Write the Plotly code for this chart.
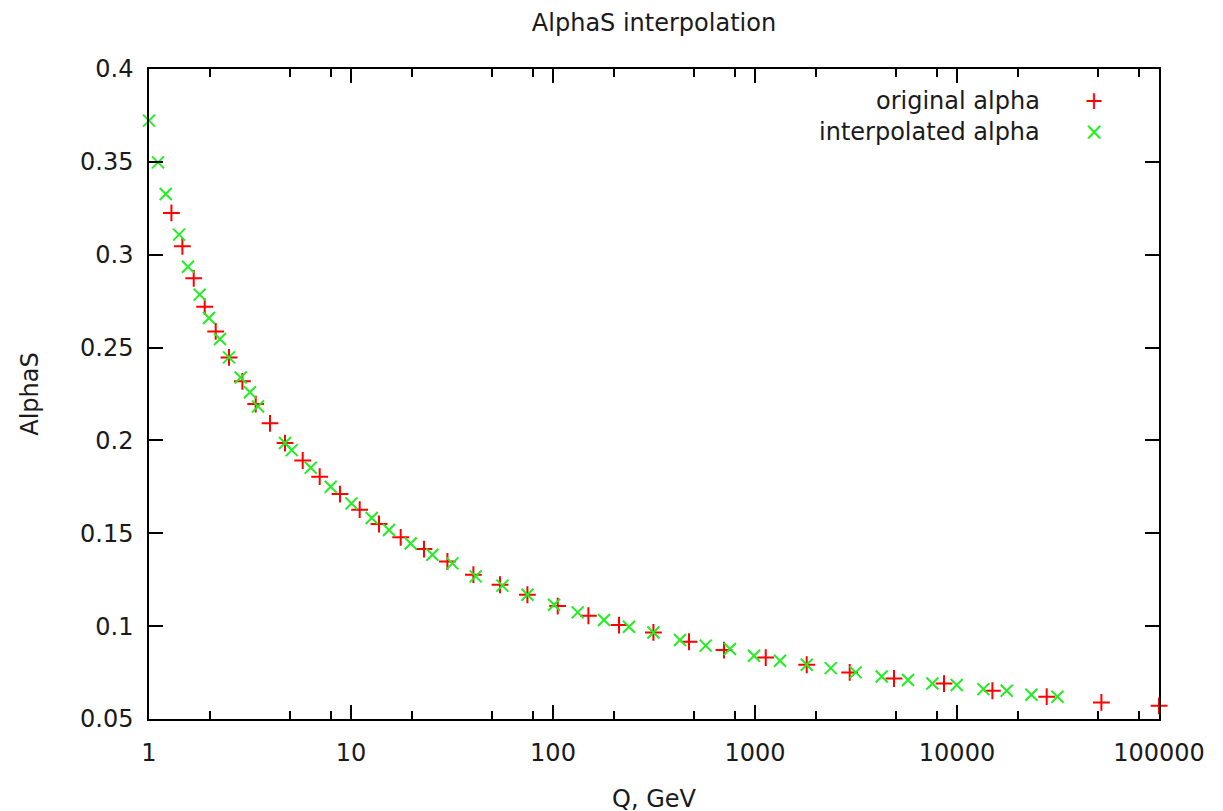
import plotly.graph_objects as go

# ─── data ────────────────────────────────────────────────────────────────────

# original alpha (red "+")
q_original = [1.291, 1.463, 1.665, 1.887, 2.139, 2.489, 2.900, 3.375, 3.972, 4.713,
              5.767, 6.998, 8.820, 11.04, 13.76, 17.62, 22.98, 30.01, 40.35, 54.65,
              74.7, 105.5, 149.7, 212.2, 314.1, 471.3, 702.3, 1130, 1803, 2943,
              4877, 8623, 14970, 27800, 51860, 100000]
alpha_original = [0.3225, 0.3045, 0.2873, 0.2720, 0.2587, 0.2447, 0.2318, 0.2196, 0.2092, 0.1986,
                  0.1892, 0.1805, 0.1711, 0.1627, 0.1550, 0.1478, 0.1415, 0.1348, 0.1277, 0.1223,
                  0.1169, 0.1108, 0.1056, 0.1006, 0.0966, 0.0916, 0.0871, 0.0831, 0.0792, 0.0751,
                  0.0718, 0.0691, 0.0652, 0.0620, 0.0589, 0.0571]

# interpolated alpha (green "x")
q_interp = [1.0, 1.108, 1.210, 1.408, 1.560, 1.782, 1.982, 2.246, 2.489, 2.844,
            3.162, 3.464, 4.713, 5.087, 6.318, 7.935, 10.05, 12.66, 15.42, 19.75,
            25.29, 31.77, 41.43, 56.18, 74.7, 101.2, 132.5, 178.8, 237.8, 314.1,
            425.3, 570.1, 751.9, 988.6, 1330, 1803, 2371, 3151, 4239, 5721,
            7554, 9966, 13510, 17620, 23350, 31410]
alpha_interp = [0.3722, 0.3497, 0.3327, 0.3108, 0.2935, 0.2785, 0.2659, 0.2546, 0.2447, 0.2339,
                0.2259, 0.2183, 0.1986, 0.1948, 0.1853, 0.1751, 0.1661, 0.1582, 0.1518, 0.1445,
                0.1384, 0.1338, 0.1268, 0.1218, 0.1169, 0.1115, 0.1074, 0.1033, 0.0997, 0.0966,
                0.0925, 0.0895, 0.0877, 0.0841, 0.0814, 0.0792, 0.0774, 0.0751, 0.0729, 0.0710,
                0.0691, 0.0683, 0.0661, 0.0652, 0.0631, 0.0620]

x_ticks = [1, 10, 100, 1000, 10000, 100000]
x_tick_labels = ["1", "10", "100", "1000", "10000", "100000"]
x_minor_ticks = [2, 5, 8, 20, 50, 80, 200, 500, 800, 2000, 5000, 8000,
                 20000, 50000, 80000]
y_ticks = [0.05, 0.1, 0.15, 0.2, 0.25, 0.3, 0.35, 0.4]
y_tick_labels = ["0.05", "0.1", "0.15", "0.2", "0.25", "0.3", "0.35", "0.4"]

FONT = "DejaVu Sans"
FS = 24
TEXT = "#1a1a1a"
RED = "#ff0000"
GREEN = "#22ee22"

# the page body adds ~7px offset, so the margins are shifted to compensate
L, R, T, B = 141, 72, 61, 100
W, H = 1223, 811
PW, PH = W - L - R, H - T - B

fig = go.Figure()
fig.add_trace(go.Scatter(
    x=q_original, y=alpha_original, mode="markers", name="original alpha",
    cliponaxis=False,
    marker=dict(symbol="cross-thin", size=12, color=RED, line=dict(color=RED, width=2)),
))
fig.add_trace(go.Scatter(
    x=q_interp, y=alpha_interp, mode="markers", name="interpolated alpha",
    cliponaxis=False,
    marker=dict(symbol="x-thin", size=12, color=GREEN, line=dict(color=GREEN, width=2)),
))

axis_common = dict(
    showline=True, linecolor="black", linewidth=1.5, mirror="ticks",
    ticks="inside", ticklen=14, tickwidth=1.5, tickcolor="black",
    showgrid=False, zeroline=False,
    tickfont=dict(family=FONT, size=FS, color=TEXT),
)

fig.update_layout(
    width=W, height=H,
    paper_bgcolor="white", plot_bgcolor="white",
    margin=dict(l=L, r=R, t=T, b=B),
    showlegend=False,
    font=dict(family=FONT, size=FS, color=TEXT),
    title=dict(text="AlphaS interpolation", x=(L + PW / 2) / W, xanchor="center",
               y=1 - 15 / H, yanchor="middle",
               font=dict(family=FONT, size=FS, color=TEXT)),
    xaxis=dict(
        type="log", range=[0, 5],
        tickmode="array", tickvals=x_ticks, ticktext=x_tick_labels,
        minor=dict(tickmode="array", tickvals=x_minor_ticks, ticks="inside",
                   ticklen=8, tickwidth=1.5, tickcolor="black", showgrid=False),
        ticklabelstandoff=11,
        title=dict(text="Q, GeV", standoff=25, font=dict(family=FONT, size=FS, color=TEXT)),
        **axis_common,
    ),
    yaxis=dict(
        range=[0.05, 0.4],
        tickmode="array", tickvals=y_ticks, ticktext=y_tick_labels,
        ticklabelstandoff=9,
        title=dict(text="AlphaS", standoff=35, font=dict(family=FONT, size=FS, color=TEXT)),
        **axis_common,
    ),
)

# gnuplot-style key: right-aligned text with the sample to its right
key_rows = [("original alpha", "+", RED, 1 - 32 / PH),
            ("interpolated alpha", "\u00d7", GREEN, 1 - 63 / PH)]
for label, sym, col, ky in key_rows:
    fig.add_annotation(x=893 / PW, y=ky, xref="paper", yref="paper",
                       text=label, showarrow=False, xanchor="right", yanchor="middle",
                       font=dict(family=FONT, size=FS, color=TEXT))
    fig.add_annotation(x=945 / PW, y=ky, xref="paper", yref="paper",
                       text=sym, showarrow=False, xanchor="center", yanchor="middle",
                       font=dict(family=FONT, size=24, color=col))

fig.write_html("out.html")
